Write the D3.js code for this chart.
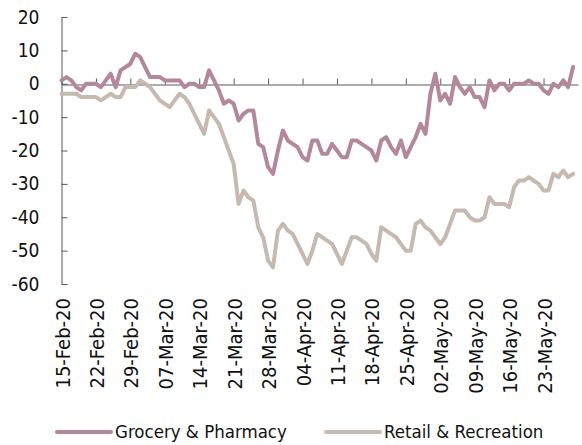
<!DOCTYPE html>
<html>
<head>
<meta charset="utf-8">
<script src="https://cdn.jsdelivr.net/npm/d3@7"></script>
<style>
  body { margin: 0; background: #fff; }
  svg { display: block; font-family: "DejaVu Sans Condensed", "DejaVu Sans", sans-serif; }
</style>
</head>
<body>
<svg id="chart" width="582" height="445"></svg>
<script>
// daily values, first day 15-Feb-20
const startDay = "15-Feb-20";
const lastDay = "30-May-20";
const seriesNames = ["Grocery & Pharmacy", "Retail & Recreation"];
const grocery = [
  1, 2, 1, -1, -2, 0, 0, 0, -1, 1, 3, -1, 4, 5, 6, 9, 8, 5, 2, 2,
  2, 1, 1, 1, 1, -1, 0, 0, -1, -1, 4, 1, -2, -6, -5, -6, -11, -9, -8, -8,
  -18, -19, -25, -27, -20, -14, -17, -18, -19, -22, -23, -17, -17, -21, -21, -18, -20, -22, -22, -17,
  -17, -18, -19, -20, -23, -17, -16, -19, -21, -17, -22, -19, -16, -12, -15, -3, 3, -5, -3, -6,
  2, -1, -3, -1, -4, -4, -7, 1, -2, 0, 0, -2, 0, 0, 0, 1, 0, 0, -2, -3,
  0, -1, 1, -1, 5
];
const retail = [
  -3, -3, -3, -3, -4, -4, -4, -4, -5, -4, -3, -4, -4, -1, -1, -1, 1, 0, -1, -3,
  -5, -6, -7, -5, -3, -4, -6, -9, -12, -15, -8, -10, -12, -16, -20, -24, -36, -32, -34, -35,
  -43, -46, -53, -55, -44, -42, -44, -45, -48, -51, -54, -50, -45, -46, -47, -48, -51, -54, -50, -46,
  -46, -47, -48, -51, -53, -43, -44, -45, -46, -48, -50, -50, -42, -41, -43, -44, -46, -48, -46, -42,
  -38, -38, -38, -40, -41, -41, -40, -34, -36, -36, -36, -37, -31, -29, -29, -28, -29, -30, -32, -32,
  -27, -28, -26, -28, -27
];
const tickLabels = ["15-Feb-20", "22-Feb-20", "29-Feb-20", "07-Mar-20", "14-Mar-20", "21-Mar-20",
  "28-Mar-20", "04-Apr-20", "11-Apr-20", "18-Apr-20", "25-Apr-20", "02-May-20", "09-May-20",
  "16-May-20", "23-May-20"];
const yTicks = [20, 10, 0, -10, -20, -30, -40, -50, -60];
const colors = ["#b3879c", "#c5b9b0"];

const parseDate = d3.timeParse("%d-%b-%y");
const start = parseDate(startDay);
const dates = grocery.map((d, i) => d3.timeDay.offset(start, i));
const tickDates = tickLabels.map(parseDate);

const svg = d3.select("#chart");

const x = d3.scaleTime()
  .domain([start, parseDate(lastDay)])
  .range([61.5, 578]);

const y = d3.scaleLinear()
  .domain([-60, 20])
  .range([284, 17]);

const axisColor = "#595959";

// y axis, ticks pointing inwards
const yAxis = svg.append("g")
  .attr("transform", "translate(61.5,0)")
  .call(d3.axisLeft(y)
    .tickValues(yTicks)
    .tickSizeInner(-6)
    .tickSizeOuter(0)
    .tickPadding(22)
    .tickFormat(d => String(d)));
yAxis.selectAll("path, line").attr("stroke", axisColor);
yAxis.selectAll("text")
  .attr("fill", "#111")
  .style("font-size", "19px")
  .style("font-family", "\"DejaVu Sans Condensed\", \"DejaVu Sans\", sans-serif");

// x axis along the zero line
const xAxis = svg.append("g")
  .attr("transform", `translate(0,${Math.round(y(0)) + 0.5})`)
  .call(d3.axisBottom(x)
    .tickValues(tickDates)
    .tickSizeInner(-6)
    .tickSizeOuter(0)
    .tickFormat(""));
xAxis.selectAll("path, line").attr("stroke", axisColor);

// rotated date labels at the bottom
svg.append("g")
  .selectAll("text")
  .data(tickDates)
  .enter()
  .append("text")
  .attr("transform", d => `translate(${x(d) + 1},298) rotate(-90)`)
  .attr("text-anchor", "end")
  .attr("dy", "0.35em")
  .attr("fill", "#111")
  .style("font-size", "20px")
  .text((d, i) => tickLabels[i]);

// series
const line = d3.line()
  .x((d, i) => x(dates[i]))
  .y(d => y(d));

[grocery, retail].forEach((values, i) => {
  svg.append("path")
    .datum(values)
    .attr("fill", "none")
    .attr("stroke", colors[i])
    .attr("stroke-width", 4)
    .attr("stroke-linejoin", "round")
    .attr("stroke-linecap", "round")
    .attr("d", line);
});

// legend
const legendX = [57, 326];
const legend = svg.append("g")
  .selectAll("g")
  .data(seriesNames)
  .enter()
  .append("g")
  .attr("transform", (d, i) => `translate(${legendX[i]},432)`);

legend.append("line")
  .attr("x1", 0)
  .attr("x2", 54)
  .attr("stroke", (d, i) => colors[i])
  .attr("stroke-width", 4)
  .attr("stroke-linecap", "round");

legend.append("text")
  .attr("x", 58)
  .attr("dy", "0.35em")
  .attr("fill", "#111")
  .style("font-size", "18.5px")
  .text(d => d);
</script>
</body>
</html>
